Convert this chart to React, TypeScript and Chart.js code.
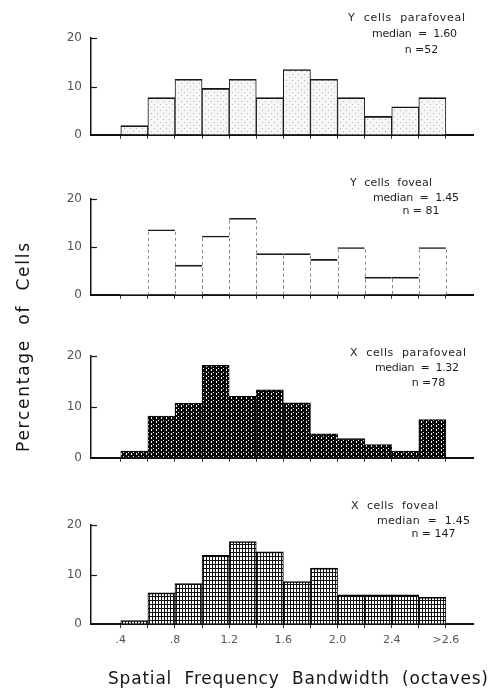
import React, { useEffect, useRef } from 'react';
import { Chart, registerables } from 'chart.js';

Chart.register(...registerables);

// ---------- DATA ----------
const binCenters = [0.5, 0.7, 0.9, 1.1, 1.3, 1.5, 1.7, 1.9, 2.1, 2.3, 2.5, 2.7];
const yParafovealValues = [1.9, 7.7, 11.5, 9.6, 11.5, 7.7, 13.5, 11.5, 7.7, 3.8, 5.8, 7.7];
const yFovealValues = [0, 13.6, 6.2, 12.3, 16.0, 8.6, 8.6, 7.4, 9.9, 3.7, 3.7, 9.9];
const xParafovealValues = [1.3, 8.2, 10.7, 18.2, 12.1, 13.4, 10.8, 4.7, 3.8, 2.6, 1.3, 7.5];
const xFovealValues = [0.7, 6.3, 8.2, 13.9, 16.7, 14.6, 8.6, 11.3, 5.9, 5.9, 5.9, 5.4];
const xTickValues = [0.4, 0.6, 0.8, 1.0, 1.2, 1.4, 1.6, 1.8, 2.0, 2.2, 2.4, 2.6, 2.8];
const xTickLabels = ['.4', '', '.8', '', '1.2', '', '1.6', '', '2.0', '', '2.4', '', '>2.6'];
const yTickValues = [0, 10, 20];
const yTickLabels = ['0', '10', '20'];
const yParafovealNotes = ['Y  cells  parafoveal', 'median  =  1.60', 'n =52'];
const yFovealNotes = ['Y  cells  foveal', 'median  =  1.45', 'n = 81'];
const xParafovealNotes = ['X  cells  parafoveal', 'median  =  1.32', 'n =78'];
const xFovealNotes = ['X  cells  foveal', 'median  =  1.45', 'n = 147'];
const xAxisTitle = 'Spatial  Frequency  Bandwidth  (octaves)';
const yAxisTitle = 'Percentage  of  Cells';

// ---------- LAYOUT / STYLE ----------
const W = 489;
const H = 695;
const AXIS_LEFT = 91;
const AXIS_RIGHT = 473;
const PAD_TOP = 10;

type PatternKind = 'stipple' | 'none' | 'dark' | 'ovals';

interface PanelSpec {
  values: number[];
  notes: string[];
  top: number;
  bottom: number;
  xh: number;
  showXLabels: boolean;
  pattern: PatternKind;
  noteBoxes: { x1: number; x2: number; cy: number; fit: boolean }[];
}

const panels: PanelSpec[] = [
  {
    values: yParafovealValues, notes: yParafovealNotes, top: 32, bottom: 139, xh: 12, showXLabels: false, pattern: 'stipple',
    noteBoxes: [
      { x1: 348, x2: 465, cy: 16.7, fit: true },
      { x1: 372, x2: 457, cy: 33, fit: true },
      { x1: 406, x2: 437, cy: 49, fit: false },
    ],
  },
  {
    values: yFovealValues, notes: yFovealNotes, top: 193, bottom: 299, xh: 12, showXLabels: false, pattern: 'none',
    noteBoxes: [
      { x1: 350, x2: 432, cy: 181.7, fit: true },
      { x1: 373, x2: 459, cy: 196.7, fit: true },
      { x1: 407, x2: 435, cy: 210, fit: false },
    ],
  },
  {
    values: xParafovealValues, notes: xParafovealNotes, top: 350, bottom: 462, xh: 12, showXLabels: false, pattern: 'dark',
    noteBoxes: [
      { x1: 350, x2: 466, cy: 351.7, fit: true },
      { x1: 375, x2: 459, cy: 366.7, fit: true },
      { x1: 415, x2: 442, cy: 381.7, fit: false },
    ],
  },
  {
    values: xFovealValues, notes: xFovealNotes, top: 519, bottom: 624, xh: 34, showXLabels: true, pattern: 'ovals',
    noteBoxes: [
      { x1: 351, x2: 438, cy: 505, fit: true },
      { x1: 377, x2: 470, cy: 520, fit: true },
      { x1: 413, x2: 454, cy: 533, fit: false },
    ],
  },
];

function makePattern(ctx: CanvasRenderingContext2D, kind: PatternKind): CanvasPattern | string {
  if (kind === 'none') return '#ffffff';
  const c = document.createElement('canvas');
  const p = c.getContext('2d')!;
  if (kind === 'stipple') {
    c.width = 6; c.height = 6;
    p.fillStyle = '#f6f6f6'; p.fillRect(0, 0, 6, 6);
    p.fillStyle = '#b4b4b4'; p.fillRect(1, 1, 1, 1); p.fillRect(4, 4, 1, 1);
  } else if (kind === 'dark') {
    c.width = 5; c.height = 4;
    p.fillStyle = '#080808'; p.fillRect(0, 0, 5, 4);
    p.fillStyle = '#f4f4f4'; p.fillRect(1, 1, 1, 2); p.fillRect(3, 0, 1, 1);
  } else {
    c.width = 3; c.height = 4;
    p.fillStyle = '#111111'; p.fillRect(0, 0, 3, 4);
    p.fillStyle = '#ffffff'; p.fillRect(0, 0, 2, 3);
  }
  return ctx.createPattern(c, 'repeat') || '#888';
}

const innerYTicks = {
  id: 'innerYTicks',
  afterDraw(chart: any) {
    const ys = chart.scales.y;
    const ctx = chart.ctx as CanvasRenderingContext2D;
    const left = chart.chartArea.left;
    ctx.save();
    ctx.strokeStyle = '#1a1a1a';
    ctx.lineWidth = 1.2;
    yTickValues.forEach((v) => {
      if (v === 0) return;
      const py = Math.round(ys.getPixelForValue(v)) + 0.5;
      ctx.beginPath();
      ctx.moveTo(left, py);
      ctx.lineTo(left + 6, py);
      ctx.stroke();
    });
    ctx.restore();
  },
};

const dashedEdges = {
  id: 'dashedEdges',
  afterDatasetsDraw(chart: any) {
    const meta = chart.getDatasetMeta(0);
    const ctx = chart.ctx as CanvasRenderingContext2D;
    ctx.save();
    ctx.strokeStyle = '#8a8a8a';
    ctx.lineWidth = 1;
    ctx.setLineDash([3, 3]);
    meta.data.forEach((bar: any) => {
      const { x, y, base, width } = bar.getProps(['x', 'y', 'base', 'width'], true);
      if (Math.abs(base - y) < 1) return;
      [x - width / 2, x + width / 2].forEach((px) => {
        ctx.beginPath();
        ctx.moveTo(Math.round(px) + 0.5, y + 2);
        ctx.lineTo(Math.round(px) + 0.5, base);
        ctx.stroke();
      });
    });
    ctx.restore();
  },
};

const Panel: React.FC<{ spec: PanelSpec }> = ({ spec }) => {
  const ref = useRef<HTMLCanvasElement | null>(null);
  const height = spec.bottom - spec.top + PAD_TOP + spec.xh;

  useEffect(() => {
    const canvas = ref.current!;
    const ctx = canvas.getContext('2d')!;
    const fill = makePattern(ctx, spec.pattern);
    let borderWidth: any = { top: 1.6, left: 1, right: 1, bottom: 0 };
    let borderColor = '#141414';
    if (spec.pattern === 'none') {
      borderWidth = { top: 1.6, left: 0, right: 0, bottom: 0 };
      borderColor = '#1a1a1a';
    } else if (spec.pattern === 'dark') {
      borderWidth = { top: 1, left: 0.6, right: 0.6, bottom: 0 };
      borderColor = '#000';
    } else if (spec.pattern === 'ovals') {
      borderWidth = { top: 1.6, left: 1, right: 1, bottom: 0 };
      borderColor = '#000';
    }
    const tickFont = { family: 'DejaVu Sans', size: 11 };
    const chart = new Chart(canvas, {
      type: 'bar',
      data: {
        datasets: [
          {
            data: binCenters.map((x, i) => ({ x, y: spec.values[i] })),
            backgroundColor: fill as any,
            borderColor,
            borderWidth,
            borderSkipped: 'bottom',
            barPercentage: 1,
            categoryPercentage: 1,
            grouped: false,
          } as any,
        ],
      },
      options: {
        animation: false,
        responsive: false,
        devicePixelRatio: 1,
        layout: { padding: { top: PAD_TOP, right: W - AXIS_RIGHT, left: 0, bottom: 0 } },
        plugins: { legend: { display: false }, tooltip: { enabled: false }, title: { display: false } },
        scales: {
          x: {
            type: 'linear',
            min: 0.18,
            max: 3.0,
            offset: false,
            grid: { display: true, drawOnChartArea: false, drawTicks: true, tickLength: 4, color: '#333', offset: false, lineWidth: 1 },
            border: { display: true, color: '#111', width: 2 },
            afterBuildTicks: (s: any) => {
              s.ticks = xTickValues.map((v) => ({ value: v }));
            },
            ticks: {
              autoSkip: false,
              maxRotation: 0,
              padding: 6,
              color: '#555',
              font: tickFont,
              callback: (_v: any, i: number) => (spec.showXLabels ? xTickLabels[i] : ''),
            },
            afterFit: (s: any) => {
              s.height = spec.xh;
            },
          } as any,
          y: {
            min: 0,
            max: 20,
            afterBuildTicks: (s: any) => {
              s.ticks = yTickValues.map((v) => ({ value: v }));
            },
            grid: { display: true, drawOnChartArea: false, drawTicks: false },
            border: { display: true, color: '#111', width: 1.5 },
            ticks: {
              padding: 9,
              color: '#555',
              font: { family: 'DejaVu Sans', size: 12 },
              callback: (_v: any, i: number) => yTickLabels[i],
            },
            afterFit: (s: any) => {
              s.width = AXIS_LEFT;
            },
          } as any,
        },
      },
      plugins: spec.pattern === 'none' ? [innerYTicks, dashedEdges] : [innerYTicks],
    });
    return () => chart.destroy();
  }, [spec]);

  return (
    <canvas
      ref={ref}
      width={W}
      height={height}
      style={{ position: 'absolute', left: 0, top: spec.top - PAD_TOP, width: W, height }}
    />
  );
};

export default function App() {
  return (
    <div style={{ position: 'absolute', left: 0, top: 0, width: W, height: H, background: '#fff', overflow: 'hidden' }}>
      {panels.map((p, i) => (
        <Panel key={i} spec={p} />
      ))}
      <svg
        width={W}
        height={H}
        style={{ position: 'absolute', left: 0, top: 0, pointerEvents: 'none' }}
        fontFamily="DejaVu Sans"
      >
        {panels.map((p, i) =>
          p.notes.map((t, j) => {
            const b = p.noteBoxes[j];
            return b.fit ? (
              <text
                key={`${i}-${j}`}
                x={b.x1}
                y={b.cy + 4}
                fontSize={11}
                fill="#1e1e1e"
                textLength={b.x2 - b.x1}
                lengthAdjust="spacing"
                style={{ whiteSpace: 'pre' }}
              >
                {t}
              </text>
            ) : (
              <text
                key={`${i}-${j}`}
                x={(b.x1 + b.x2) / 2}
                y={b.cy + 4}
                fontSize={11}
                fill="#1e1e1e"
                textAnchor="middle"
                style={{ whiteSpace: 'pre' }}
              >
                {t}
              </text>
            );
          })
        )}
        <text x={108} y={684} fontSize={17} fill="#151515" textLength={380} lengthAdjust="spacing" style={{ whiteSpace: 'pre' }}>
          {xAxisTitle}
        </text>
        <text
          transform="translate(29,347.5) rotate(-90)"
          x={0}
          y={0}
          textAnchor="middle"
          fontSize={17}
          fill="#151515"
          textLength={209}
          lengthAdjust="spacing"
          style={{ whiteSpace: 'pre' }}
        >
          {yAxisTitle}
        </text>
      </svg>
    </div>
  );
}
